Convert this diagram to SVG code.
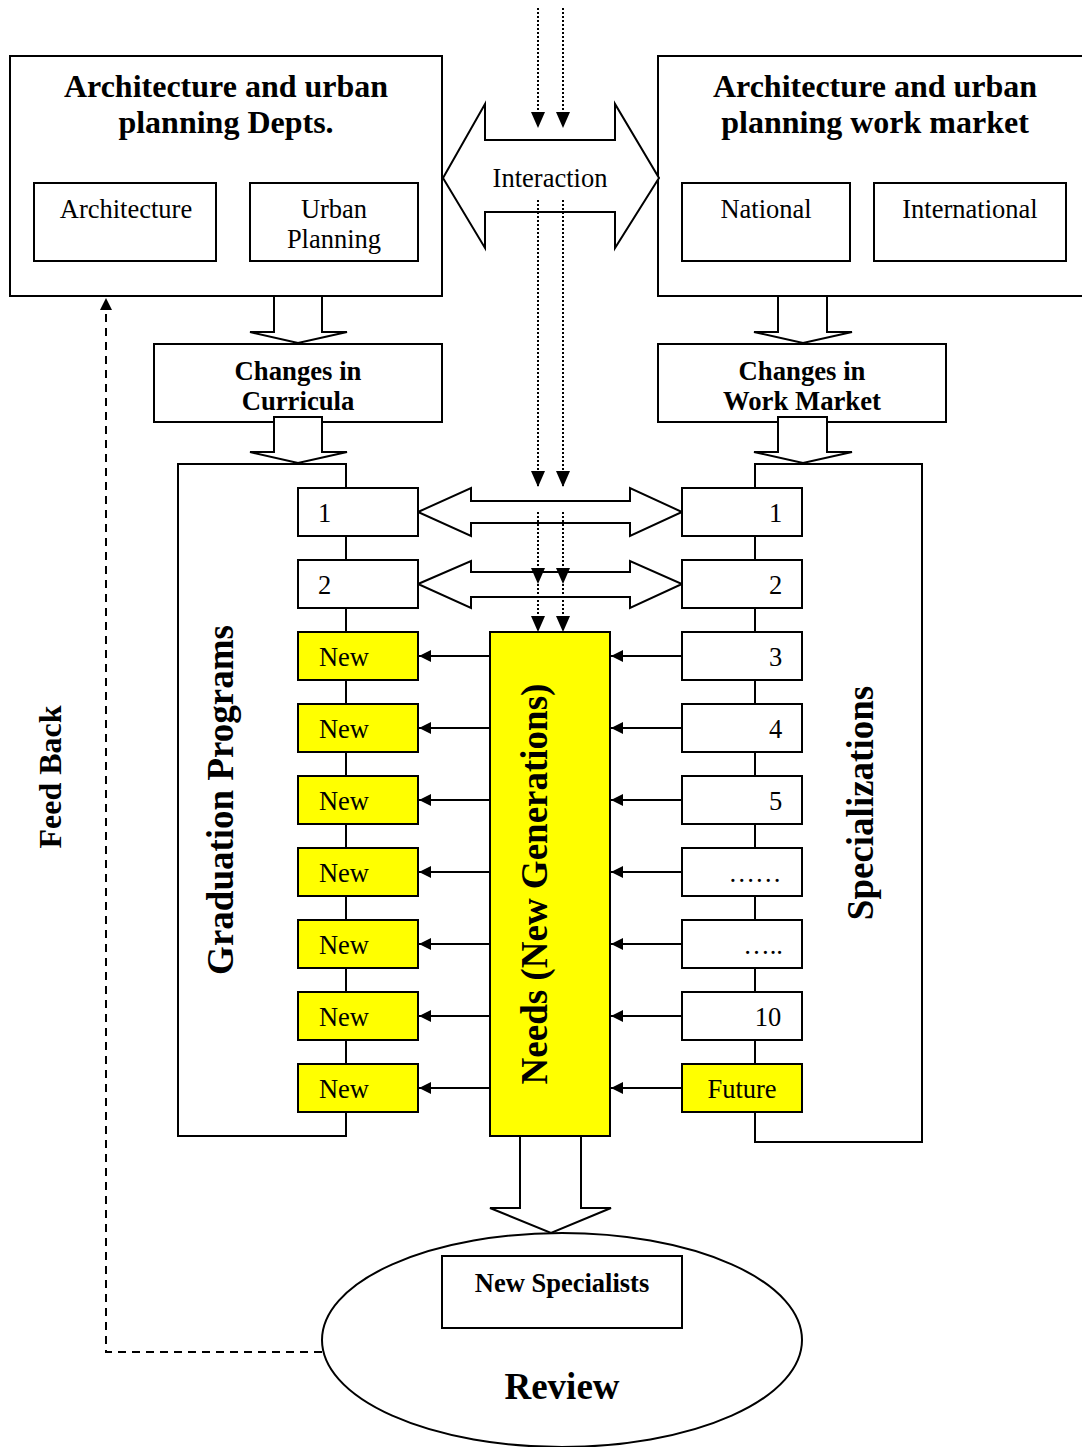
<svg xmlns="http://www.w3.org/2000/svg" width="1082" height="1447" viewBox="0 0 1082 1447">
<style>
.b{fill:#fff;stroke:#000;stroke-width:2}
.y{fill:#ffff00;stroke:#000;stroke-width:2}
.h{fill:#fff;stroke:#000;stroke-width:2;stroke-linejoin:miter}
.t{font-family:"Liberation Serif","Times New Roman",serif;font-size:26.5px;fill:#000}
.tb{font-family:"Liberation Serif","Times New Roman",serif;font-weight:bold;fill:#000}
.c{text-anchor:middle}
.ln{stroke:#000;stroke-width:2;fill:none}
.dot{stroke:#000;stroke-width:2;stroke-dasharray:2 2;fill:none}
.dash{stroke:#000;stroke-width:2;stroke-dasharray:8 6;fill:none}
</style>
<defs>
<marker id="ah" markerWidth="12" markerHeight="12" refX="12" refY="6" orient="auto" markerUnits="userSpaceOnUse">
<path d="M0,0 L12,6 L0,12 z" fill="#000"/>
</marker>
<marker id="ad" markerWidth="16" markerHeight="16" refX="16" refY="8" orient="auto" markerUnits="userSpaceOnUse">
<path d="M0,1 L16,8 L0,15 z" fill="#000"/>
</marker>
</defs>

<!-- Big bracket frames -->
<g id="graduation-frame">
<rect class="b" x="178" y="464" width="168" height="672"/>
<text class="tb c" font-size="37" transform="translate(233,800) rotate(-90)">Graduation Programs</text>
</g>
<g id="specializations-frame">
<rect class="b" x="755" y="464" width="167" height="678"/>
<text class="tb c" font-size="37" transform="translate(873,803) rotate(-90)">Specializations</text>
</g>

<!-- Top boxes -->
<g id="depts">
<rect class="b" x="10" y="56" width="432" height="240"/>
<text class="tb c" font-size="32" x="226" y="97">Architecture and urban</text>
<text class="tb c" font-size="32" x="226" y="133">planning Depts.</text>
</g>
<g id="architecture">
<rect class="b" x="34" y="183" width="182" height="78"/>
<text class="t c" x="126" y="218">Architecture</text>
</g>
<g id="urban-planning">
<rect class="b" x="250" y="183" width="168" height="78"/>
<text class="t c" x="334" y="218">Urban</text>
<text class="t c" x="334" y="248">Planning</text>
</g>
<g id="market">
<rect class="b" x="658" y="56" width="430" height="240"/>
<text class="tb c" font-size="32" x="875" y="97">Architecture and urban</text>
<text class="tb c" font-size="32" x="875" y="133">planning work market</text>
</g>
<g id="national">
<rect class="b" x="682" y="183" width="168" height="78"/>
<text class="t c" x="766" y="218">National</text>
</g>
<g id="international">
<rect class="b" x="874" y="183" width="192" height="78"/>
<text class="t c" x="970" y="218">International</text>
</g>

<!-- Changes boxes -->
<g id="changes-curricula">
<rect class="b" x="154" y="344" width="288" height="78"/>
<text class="tb c" font-size="26.7" x="298" y="380">Changes in</text>
<text class="tb c" font-size="26.7" x="298" y="410">Curricula</text>
</g>
<g id="changes-market">
<rect class="b" x="658" y="344" width="288" height="78"/>
<text class="tb c" font-size="26.7" x="802" y="380">Changes in</text>
<text class="tb c" font-size="26.7" x="802" y="410">Work Market</text>
</g>

<!-- Connectors -->
<g id="connectors">
<path class="h" d="M443,178 L485,104 L485,140 L615,140 L615,104 L659,178 L615,248 L615,212 L485,212 L485,248 Z"/>
<path class="h" d="M274,296 L322,296 L322,332 L347,332 L298,343 L250,332 L274,332 Z"/>
<path class="h" d="M274,417 L322,417 L322,452 L347,452 L298,463 L250,452 L274,452 Z"/>
<path class="h" d="M778,296 L827,296 L827,332 L852,332 L803,343 L754,332 L778,332 Z"/>
<path class="h" d="M778,417 L827,417 L827,452 L852,452 L803,463 L754,452 L778,452 Z"/>
<path class="h" d="M418,512 L471,488 L471,501 L630,501 L630,488 L682,512 L630,536 L630,523 L471,523 L471,536 Z"/>
<path class="h" d="M418,584 L471,561 L471,572 L630,572 L630,561 L682,584 L630,608 L630,597 L471,597 L471,608 Z"/>
<path class="h" d="M520,1136 L581,1136 L581,1208 L611,1208 L551,1233 L490,1208 L520,1208 Z"/>
<line class="dot" x1="538" y1="8" x2="538" y2="128" marker-end="url(#ad)"/>
<line class="dot" x1="563" y1="8" x2="563" y2="128" marker-end="url(#ad)"/>
<line class="dot" x1="538" y1="200" x2="538" y2="487" marker-end="url(#ad)"/>
<line class="dot" x1="563" y1="200" x2="563" y2="487" marker-end="url(#ad)"/>
<line class="dot" x1="538" y1="512" x2="538" y2="584" marker-end="url(#ad)"/>
<line class="dot" x1="563" y1="512" x2="563" y2="584" marker-end="url(#ad)"/>
<line class="dot" x1="538" y1="584" x2="538" y2="632" marker-end="url(#ad)"/>
<line class="dot" x1="563" y1="584" x2="563" y2="632" marker-end="url(#ad)"/>
<line class="ln" x1="490" y1="656" x2="419" y2="656" marker-end="url(#ah)"/>
<line class="ln" x1="490" y1="728" x2="419" y2="728" marker-end="url(#ah)"/>
<line class="ln" x1="490" y1="800" x2="419" y2="800" marker-end="url(#ah)"/>
<line class="ln" x1="490" y1="872" x2="419" y2="872" marker-end="url(#ah)"/>
<line class="ln" x1="490" y1="944" x2="419" y2="944" marker-end="url(#ah)"/>
<line class="ln" x1="490" y1="1016" x2="419" y2="1016" marker-end="url(#ah)"/>
<line class="ln" x1="490" y1="1088" x2="419" y2="1088" marker-end="url(#ah)"/>
<line class="ln" x1="682" y1="656" x2="611" y2="656" marker-end="url(#ah)"/>
<line class="ln" x1="682" y1="728" x2="611" y2="728" marker-end="url(#ah)"/>
<line class="ln" x1="682" y1="800" x2="611" y2="800" marker-end="url(#ah)"/>
<line class="ln" x1="682" y1="872" x2="611" y2="872" marker-end="url(#ah)"/>
<line class="ln" x1="682" y1="944" x2="611" y2="944" marker-end="url(#ah)"/>
<line class="ln" x1="682" y1="1016" x2="611" y2="1016" marker-end="url(#ah)"/>
<line class="ln" x1="682" y1="1088" x2="611" y2="1088" marker-end="url(#ah)"/>
<polyline class="dash" points="322,1352 106,1352 106,298" marker-end="url(#ah)"/>
</g>

<text class="t c" x="550" y="187">Interaction</text>

<g id="g1"><rect class="b" x="298" y="488" width="120" height="48"/><text class="t" x="318" y="522">1</text></g>
<g id="g2"><rect class="b" x="298" y="560" width="120" height="48"/><text class="t" x="318" y="594">2</text></g>
<g id="new1"><rect class="y" x="298" y="632" width="120" height="48"/><text class="t c" x="344" y="666">New</text></g>
<g id="new2"><rect class="y" x="298" y="704" width="120" height="48"/><text class="t c" x="344" y="738">New</text></g>
<g id="new3"><rect class="y" x="298" y="776" width="120" height="48"/><text class="t c" x="344" y="810">New</text></g>
<g id="new4"><rect class="y" x="298" y="848" width="120" height="48"/><text class="t c" x="344" y="882">New</text></g>
<g id="new5"><rect class="y" x="298" y="920" width="120" height="48"/><text class="t c" x="344" y="954">New</text></g>
<g id="new6"><rect class="y" x="298" y="992" width="120" height="48"/><text class="t c" x="344" y="1026">New</text></g>
<g id="new7"><rect class="y" x="298" y="1064" width="120" height="48"/><text class="t c" x="344" y="1098">New</text></g>

<g id="s1"><rect class="b" x="682" y="488" width="120" height="48"/><text class="t" x="769" y="522">1</text></g>
<g id="s2"><rect class="b" x="682" y="560" width="120" height="48"/><text class="t" x="769" y="594">2</text></g>
<g id="s3"><rect class="b" x="682" y="632" width="120" height="48"/><text class="t" x="769" y="666">3</text></g>
<g id="s4"><rect class="b" x="682" y="704" width="120" height="48"/><text class="t" x="769" y="738">4</text></g>
<g id="s5"><rect class="b" x="682" y="776" width="120" height="48"/><text class="t" x="769" y="810">5</text></g>
<g id="s6"><rect class="b" x="682" y="848" width="120" height="48"/><text class="t c" x="755" y="882">……</text></g>
<g id="s7"><rect class="b" x="682" y="920" width="120" height="48"/><text class="t c" x="763" y="954">…..</text></g>
<g id="s10"><rect class="b" x="682" y="992" width="120" height="48"/><text class="t c" x="768" y="1026">10</text></g>
<g id="future"><rect class="y" x="682" y="1064" width="120" height="48"/><text class="t c" x="742" y="1098">Future</text></g>

<g id="needs">
<rect class="y" x="490" y="632" width="120" height="504"/>
<text class="tb c" font-size="37" transform="translate(547,884) rotate(-90)">Needs (New Generations)</text>
</g>

<g id="review">
<ellipse class="b" cx="562" cy="1340" rx="240" ry="107"/>
<text class="tb c" font-size="37" x="562" y="1399">Review</text>
</g>
<g id="new-specialists">
<rect class="b" x="442" y="1256" width="240" height="72"/>
<text class="tb c" font-size="26.5" x="562" y="1292">New Specialists</text>
</g>

<g id="feedback-label">
<text class="tb c" font-size="32" transform="translate(61,777) rotate(-90)">Feed Back</text>
</g>
</svg>
